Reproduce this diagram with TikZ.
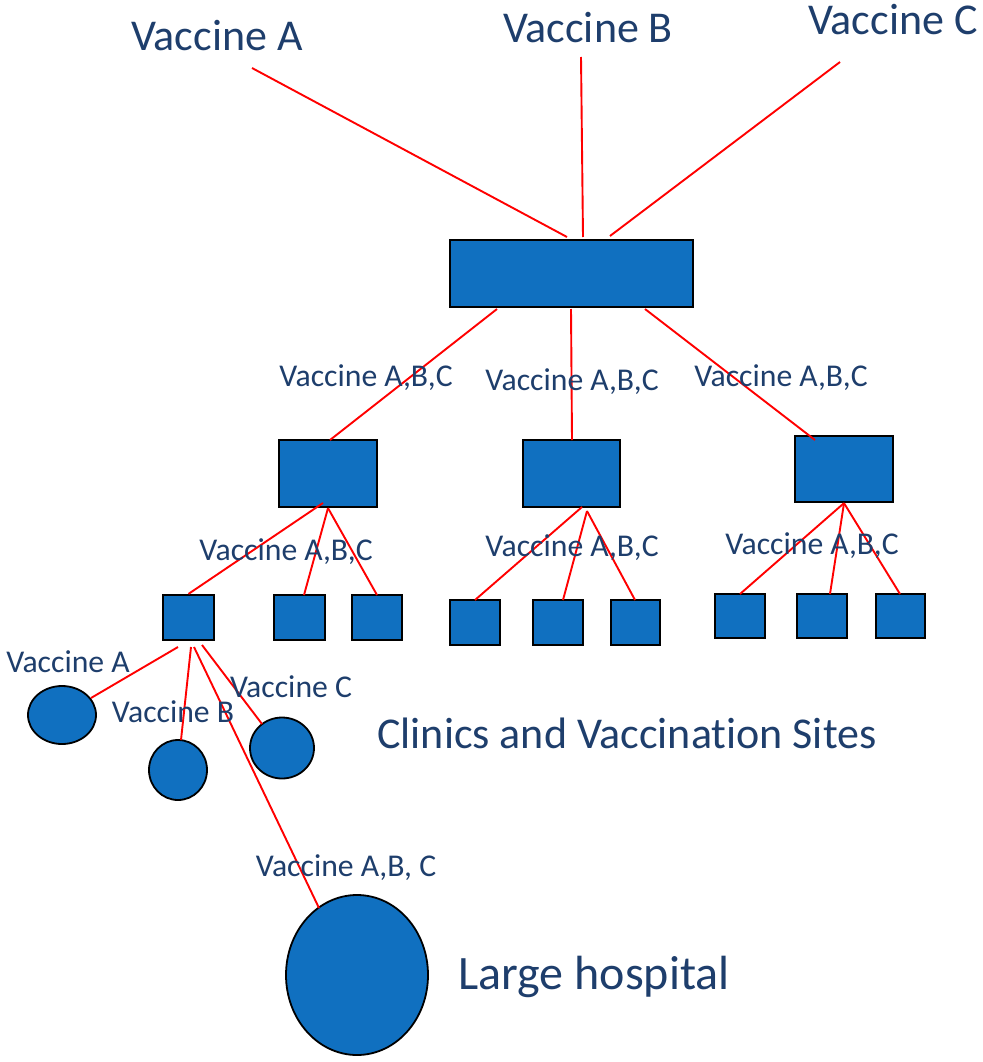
\documentclass[tikz,border=0pt]{standalone}
\usepackage{fontspec}
\setmainfont[Ligatures=NoCommon]{Carlito}
\usetikzlibrary{shapes.geometric}
\definecolor{txt}{RGB}{30,62,108}
\definecolor{fillb}{RGB}{16,112,192}
\begin{document}
\begin{tikzpicture}[x=1pt,y=-1pt,
  box/.style={draw=black,line width=2.2pt,fill=fillb,inner sep=0pt},
  oval/.style={draw=black,line width=1.8pt,fill=fillb,ellipse,inner sep=0pt},
  big/.style={text=txt,font=\fontsize{44}{50}\selectfont,inner sep=0pt},
  huge/.style={text=txt,font=\fontsize{48}{54}\selectfont,inner sep=0pt},
  small/.style={text=txt,font=\fontsize{31.7}{36}\selectfont,inner sep=0pt},
  link/.style={draw=red,line width=1.9pt}]
\useasboundingbox (0,0) rectangle (982,1062);
% top labels
\node[big] (la) at (217,36) {Vaccine A};
\node[big] (lb) at (588,28) {Vaccine B};
\node[big] (lc) at (893,20) {Vaccine C};
\coordinate (ta) at (252,68);
\coordinate (tb) at (581,57);
\coordinate (tc) at (840,62);
% main box
\node[box,minimum width=243pt,minimum height=67pt] (main) at (571.5,273.5) {};
\coordinate (ea) at (567,237);
\coordinate (eb) at (583,237);
\coordinate (ec) at (610,236);
\draw[link] (ta) -- (ea);
\draw[link] (tb) -- (eb);
\draw[link] (tc) -- (ec);
% second level
\node[box,minimum width=98pt,minimum height=67pt] (d1) at (328,473.5) {};
\node[box,minimum width=97pt,minimum height=67pt] (d2) at (571.5,473.5) {};
\node[box,minimum width=98pt,minimum height=66pt] (d3) at (844,469) {};
\draw[link] (497,309) -- (330,440);
\draw[link] (571,309) -- (572,440);
\draw[link] (645,309) -- (815,440);
\node[small] (l1) at (366,378) {Vaccine A,B,C};
\node[small] (l2) at (572,382) {Vaccine A,B,C};
\node[small] (l3) at (781,378) {Vaccine A,B,C};
% third level boxes
\node[box,minimum width=51pt,minimum height=45pt] (s11) at (188.5,617.5) {};
\node[box,minimum width=51pt,minimum height=45pt] (s12) at (299.5,617.5) {};
\node[box,minimum width=50pt,minimum height=45pt] (s13) at (377,617.5) {};
\node[box,minimum width=50pt,minimum height=45pt] (s21) at (475,622.5) {};
\node[box,minimum width=50pt,minimum height=45pt] (s22) at (558,622.5) {};
\node[box,minimum width=49pt,minimum height=45pt] (s23) at (635.5,622.5) {};
\node[box,minimum width=50pt,minimum height=44pt] (s31) at (740,616) {};
\node[box,minimum width=50pt,minimum height=44pt] (s32) at (822,616) {};
\node[box,minimum width=49pt,minimum height=44pt] (s33) at (900.5,616) {};
\draw[link] (323,503) -- (s11.north);
\draw[link] (d1.south) -- (304,595);
\draw[link] (d1.south) -- (377,595);
\draw[link] (582,507) -- (475,600);
\draw[link] (587,511) -- (563,600);
\draw[link] (587,511) -- (635,600);
\draw[link] (d3.south) -- (740,594);
\draw[link] (d3.south) -- (830,594);
\draw[link] (d3.south) -- (900,594);
\node[small] (m1) at (286,552) {Vaccine A,B,C};
\node[small] (m2) at (572,548) {Vaccine A,B,C};
\node[small] (m3) at (812,546) {Vaccine A,B,C};
% ovals
\node[oval,minimum width=68pt,minimum height=58pt] (oa) at (62,715) {};
\node[oval,minimum width=58pt,minimum height=60pt] (ob) at (178,770) {};
\node[oval,minimum width=64pt,minimum height=61pt] (oc) at (282,748) {};
\node[oval,minimum width=142pt,minimum height=160pt] (hosp) at (357,975) {};
\draw[link] (178,647) -- (91,698);
\draw[link] (191,647) -- (181,740);
\draw[link] (194,647) -- (319,908);
\draw[link] (202,645) -- (262,724);
\node[small] (na) at (68,662) {Vaccine A};
\node[small] (nb) at (173,712) {Vaccine B};
\node[small] (nc) at (291,687) {Vaccine C};
\node[small] (nh) at (346,868) {Vaccine A,B, C};
\node[big] (clin) at (627,733) {Clinics and Vaccination Sites};
\node[huge] (lh) at (594,977) {Large hospital};
\end{tikzpicture}
\end{document}
